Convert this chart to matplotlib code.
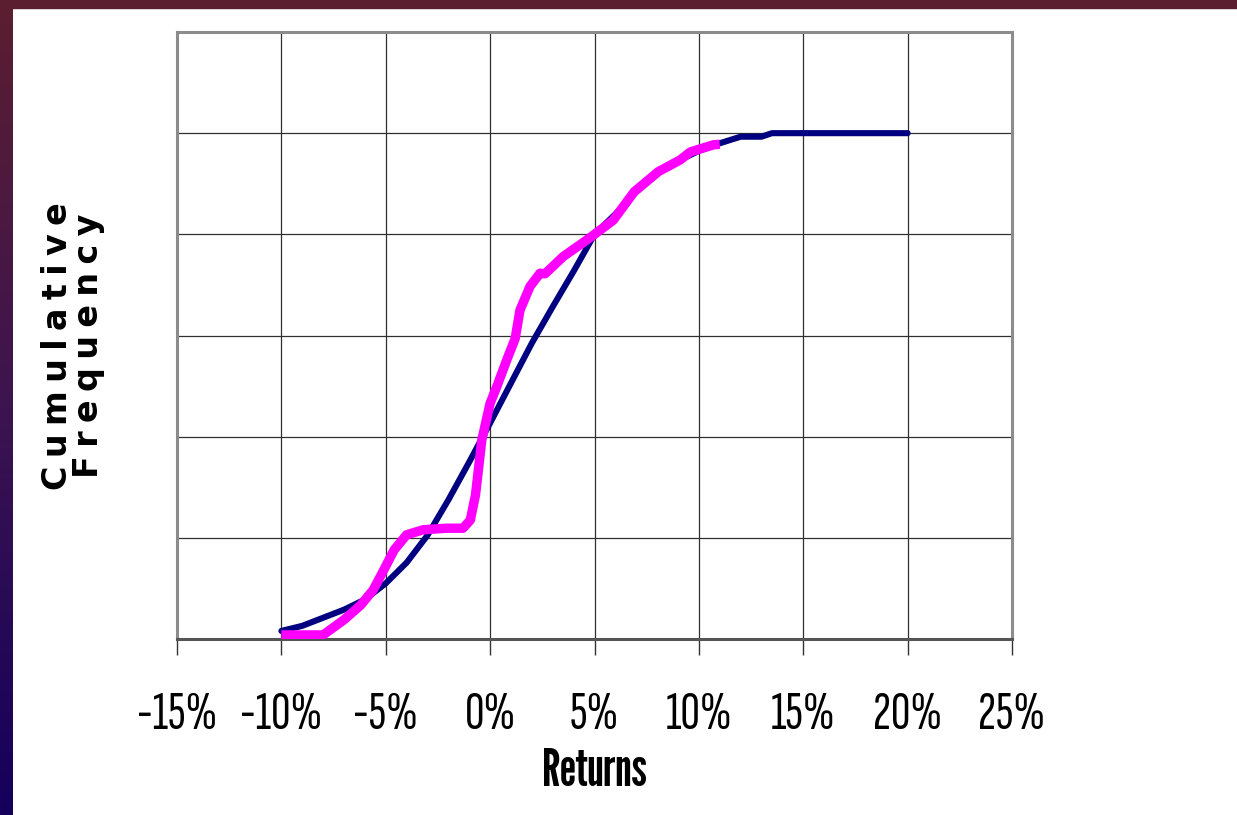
import numpy as np
import matplotlib
matplotlib.use('Agg')
import matplotlib.pyplot as plt
from matplotlib import font_manager
from matplotlib.colors import LinearSegmentedColormap
from matplotlib.patches import Rectangle

# --- Cumulative frequency of returns (returns in %) ---
# Smooth reference distribution
RET_REF = [-10, -9, -8, -7, -6, -5, -4, -3, -2, -1, 0, 1, 2, 3, 4, 5, 6, 7,
           8, 9, 10, 11, 12, 13, 13.5, 20]
CUM_REF = [0.016, 0.026, 0.042, 0.058, 0.078, 0.110, 0.151, 0.205, 0.275,
           0.350, 0.427, 0.506, 0.585, 0.657, 0.727, 0.800, 0.840, 0.885,
           0.920, 0.945, 0.965, 0.980, 0.993, 0.993, 1.000, 1.000]

# Observed (historical) returns
RET_OBS = [-10, -8, -7.0, -6.2, -5.6, -5.1, -4.6, -4.0, -3.2, -2.1, -1.3,
           -0.95, -0.7, -0.4, 0.0, 0.32, 0.8, 1.2, 1.43, 1.91, 2.39, 2.63,
           3.5, 4.5, 5.0, 5.9, 6.9, 8.06, 9.1, 9.6, 10.7, 11.0]
CUM_OBS = [0.008, 0.008, 0.038, 0.067, 0.097, 0.136, 0.176, 0.206, 0.216,
           0.219, 0.219, 0.235, 0.285, 0.393, 0.466, 0.499, 0.552, 0.594,
           0.650, 0.697, 0.723, 0.722, 0.756, 0.785, 0.800, 0.828, 0.884,
           0.924, 0.947, 0.963, 0.977, 0.978]

X_TICKS = [-15, -10, -5, 0, 5, 10, 15, 20, 25]
X_TICK_LABELS = ['-15%', '-10%', '-5%', '0%', '5%', '10%', '15%', '20%', '25%']
Y_GRID = [0, 0.2, 0.4, 0.6, 0.8, 1.0, 1.2]

# narrow faces for the axis text, first one that is installed
installed = {f.name for f in font_manager.fontManager.ttflist}
NARROW = next((n for n in ['Sofia Sans Extra Condensed', 'Pathway Gothic One',
                           'Archivo Narrow', 'Liberation Sans Narrow']
               if n in installed), 'Liberation Sans')
NARROW_BOLD = next((n for n in ['League Gothic', 'Barlow Condensed',
                                'Archivo Narrow', 'Liberation Sans Narrow']
                    if n in installed), 'Liberation Sans')
TICK_SIZE = 39 if NARROW != 'Liberation Sans' else 24
LABEL_SIZE = 37 if NARROW_BOLD == 'League Gothic' else 28

W, H = 1237, 815
fig = plt.figure(figsize=(W / 100, H / 100), dpi=100, facecolor='white')

# slide decoration: top band and gradient strip on the left
fig.add_artist(Rectangle((0, 1 - 8 / H), 1, 8 / H, transform=fig.transFigure,
                         color='#5a1e30', zorder=5))
band = fig.add_axes([0, 0, 12 / W, 1])
cmap = LinearSegmentedColormap.from_list('band', ['#5c1e30', '#3c1450', '#14005c'])
band.imshow(np.linspace(0, 1, 256).reshape(-1, 1), cmap=cmap, aspect='auto',
            extent=[0, 1, 0, 1])
band.set_axis_off()

ax = fig.add_axes([177 / W, 1 - 639 / H, (1012 - 177) / W, (639 - 32) / H])

ax.plot(RET_REF, CUM_REF, color='#000080', lw=4.4, solid_capstyle='round',
        solid_joinstyle='round', zorder=3)
ax.plot(RET_OBS, CUM_OBS, color='#ff00ff', lw=6.8, solid_capstyle='butt',
        solid_joinstyle='round', zorder=4)

ax.set_xlim(-15, 25)
ax.set_ylim(0, 1.2)
ax.set_xticks(X_TICKS)
ax.set_xticklabels(X_TICK_LABELS, fontfamily=NARROW, fontsize=TICK_SIZE)
ax.set_yticks(Y_GRID)
ax.tick_params(axis='y', length=0, labelleft=False)
ax.tick_params(axis='x', length=11.5, width=1, color='#333333', pad=27)

ax.set_axisbelow(True)
ax.grid(True, color='#303030', lw=0.9)

for side in ['top', 'right', 'left']:
    ax.spines[side].set_color('#8c8c8c')
    ax.spines[side].set_linewidth(2.2)
ax.spines['bottom'].set_color('#555555')
ax.spines['bottom'].set_linewidth(2.2)

ax.set_xlabel('Returns', fontfamily=NARROW_BOLD, fontweight='bold',
              fontsize=LABEL_SIZE, va='center')
ax.xaxis.set_label_coords(0.5, (639 - 772) / (639 - 32))

# y label, letter-spaced and rotated
sp = '\u2005'
fig.text(73 / W, 1 - 346 / H, sp.join('Cumulative') + '\n' + sp.join('Frequency'),
         rotation=90, ha='center', va='center', fontsize=24, fontweight='bold',
         family='DejaVu Sans', linespacing=0.95)

fig.savefig('out.png', dpi=100, facecolor='white')
